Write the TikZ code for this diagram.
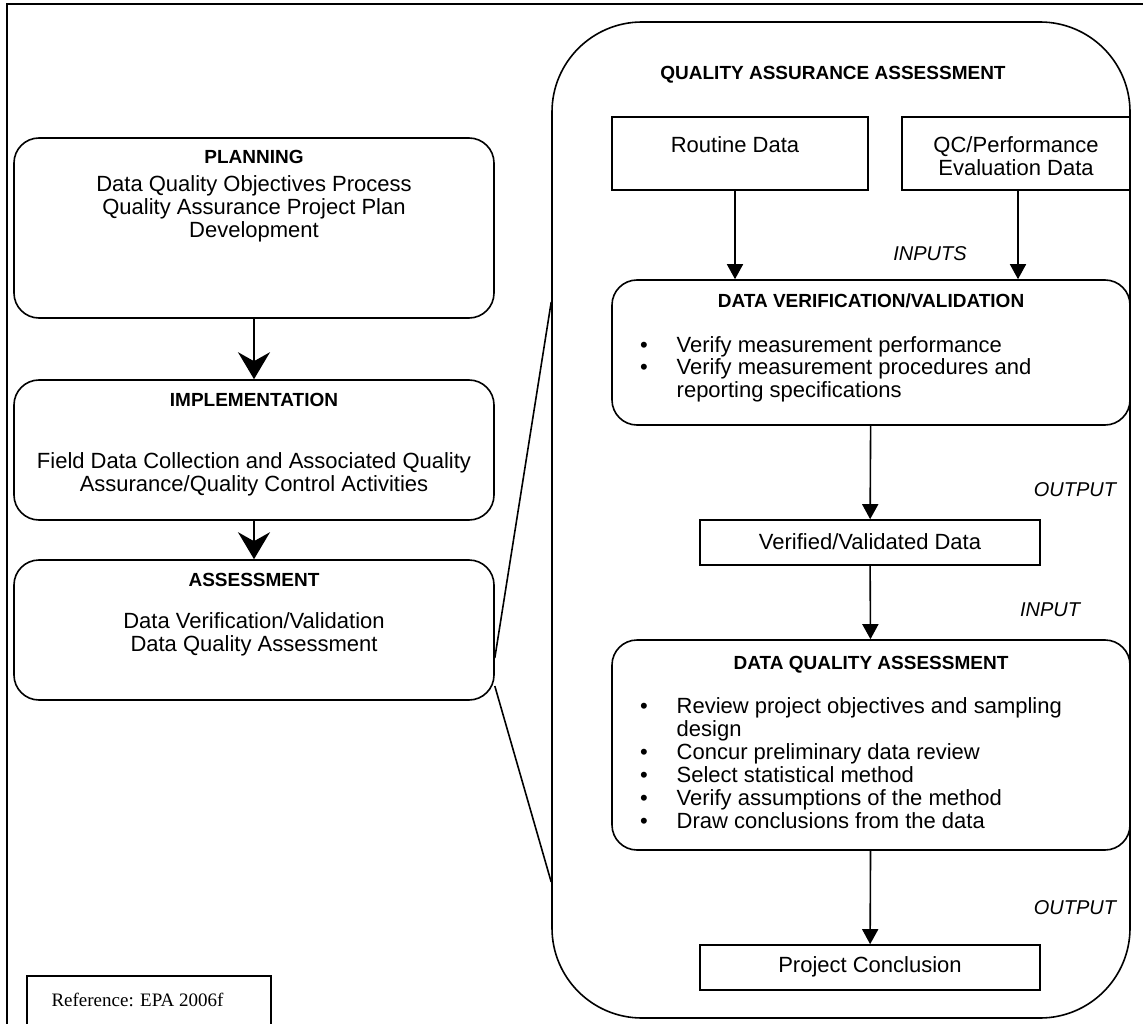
\documentclass[tikz,border=0pt]{standalone}
\usepackage{fontspec}
\setmainfont{Liberation Sans}
\newfontfamily\refserif{Liberation Serif}
\usetikzlibrary{arrows.meta}
\tikzset{
    phase-box/.style = {draw, line width=1.6pt, rectangle, rounded corners=25pt, inner sep=0pt},
    data-box/.style = {draw, line width=1.6pt, rectangle, inner sep=0pt},
    flow-label/.style = {font=\fontsize{20}{23}\selectfont\itshape},
    phase-arrow/.style = {line width=1.6pt, -{Stealth[length=27pt, width=32pt, inset=9pt]}},
    data-arrow/.style = {line width=1.6pt, -{Triangle[length=15pt, width=16pt]}},
}
\newcommand{\bodysize}{\fontsize{22}{23}\selectfont}
\newcommand{\titlesize}{\fontsize{19}{23}\selectfont\bfseries}

\begin{document}
\begin{tikzpicture}[x=1pt, y=-1pt]
\useasboundingbox (0,0) rectangle (1143,1024);
\draw[line width=1.6pt] (7,4) rectangle (1170,1050);

% left column
\node[phase-box] (planning) at (254,228) {\begin{minipage}[c][180pt][t]{480pt}\bodysize\centering
    \vspace*{12pt}{\titlesize PLANNING}\\[5pt]
    Data Quality Objectives Process\\
    Quality Assurance Project Plan\\
    Development
\end{minipage}};
\node[phase-box] (implementation) at (254,450) {\begin{minipage}[c][140pt][t]{480pt}\bodysize\centering
    \vspace*{13pt}{\titlesize IMPLEMENTATION}\\[39pt]
    Field Data Collection and Associated Quality\\
    Assurance/Quality Control Activities
\end{minipage}};
\node[phase-box] (assessment) at (254,630) {\begin{minipage}[c][140pt][t]{480pt}\bodysize\centering
    \vspace*{13pt}{\titlesize ASSESSMENT}\\[19pt]
    Data Verification/Validation\\
    Data Quality Assessment
\end{minipage}};
\draw[phase-arrow] (planning) -- (implementation);
\draw[phase-arrow] (implementation) -- (assessment);

\node[data-box, minimum width=244pt, minimum height=60pt, anchor=north west] (reference) at (26,975) {};
\node[anchor=west, font=\refserif\fontsize{19}{23}\selectfont] (reference-text) at (48,1000) {Reference: EPA 2006f};

% quality assurance assessment
\node[draw, line width=1.6pt, rectangle, rounded corners=90pt, minimum width=578pt, minimum height=996pt] (qa) at (841,520) {};
\node[font=\titlesize] (qa-title) at (833,75) {QUALITY ASSURANCE ASSESSMENT};
\draw[line width=1.6pt] ([yshift=-28pt]assessment.east) -- ([yshift=218pt]qa.west);
\draw[line width=1.6pt] ([yshift=-56pt]assessment.east) -- ([yshift=-362pt]qa.west);

\node[data-box, minimum width=256pt, minimum height=73pt] (routine) at (740,153.5) {};
\node[font=\bodysize] (routine-text) at (735,145) {Routine Data};
\node[data-box, minimum width=228pt, minimum height=73pt] (qc) at (1016,153.5) {};
\node[font=\bodysize, align=center] (qc-text) at (1016,156) {QC/Performance\\Evaluation Data};
\node[flow-label] (inputs) at (930,254) {INPUTS};

\node[phase-box] (verification) at (871,352.5) {\begin{minipage}[c][145pt][t]{518pt}\fontsize{22}{22}\selectfont
    \vspace*{14pt}{\centering\titlesize DATA VERIFICATION/VALIDATION\par}\vspace{27pt}
    \begin{tabular}{@{\hspace{28pt}}l@{\hspace{29pt}}l}
    \textbullet & Verify measurement performance\\
    \textbullet & Verify measurement procedures and\\
     & reporting specifications
    \end{tabular}
\end{minipage}};
\draw[data-arrow] (routine.south -| 735,0) -- (verification.north -| 735,0);
\draw[data-arrow] (qc.south -| 1018,0) -- (verification.north -| 1018,0);

\node[data-box, minimum width=340pt, minimum height=45pt] (verified) at (870,542.5) {};
\node[font=\bodysize] (verified-text) at (870,542) {Verified/Validated Data};
\node[flow-label] (output-one) at (1075,490) {OUTPUT};
\draw[data-arrow] (verification) -- (verified);

\node[phase-box] (dqa) at (871,745) {\begin{minipage}[c][210pt][t]{518pt}\bodysize
    \vspace*{16pt}{\centering\titlesize DATA QUALITY ASSESSMENT\par}\vspace{23pt}
    \begin{tabular}{@{\hspace{28pt}}l@{\hspace{29pt}}l}
    \textbullet & Review project objectives and sampling\\
     & design\\
    \textbullet & Concur preliminary data review\\
    \textbullet & Select statistical method\\
    \textbullet & Verify assumptions of the method\\
    \textbullet & Draw conclusions from the data
    \end{tabular}
\end{minipage}};
\node[flow-label] (input) at (1050,610) {INPUT};
\draw[data-arrow] (verified) -- (dqa);

\node[data-box, minimum width=340pt, minimum height=45pt] (conclusion) at (870,967.5) {};
\node[font=\bodysize] (conclusion-text) at (870,967) {Project Conclusion};
\node[flow-label] (output-two) at (1075,908) {OUTPUT};
\draw[data-arrow] (dqa) -- (conclusion);
\end{tikzpicture}
\end{document}
